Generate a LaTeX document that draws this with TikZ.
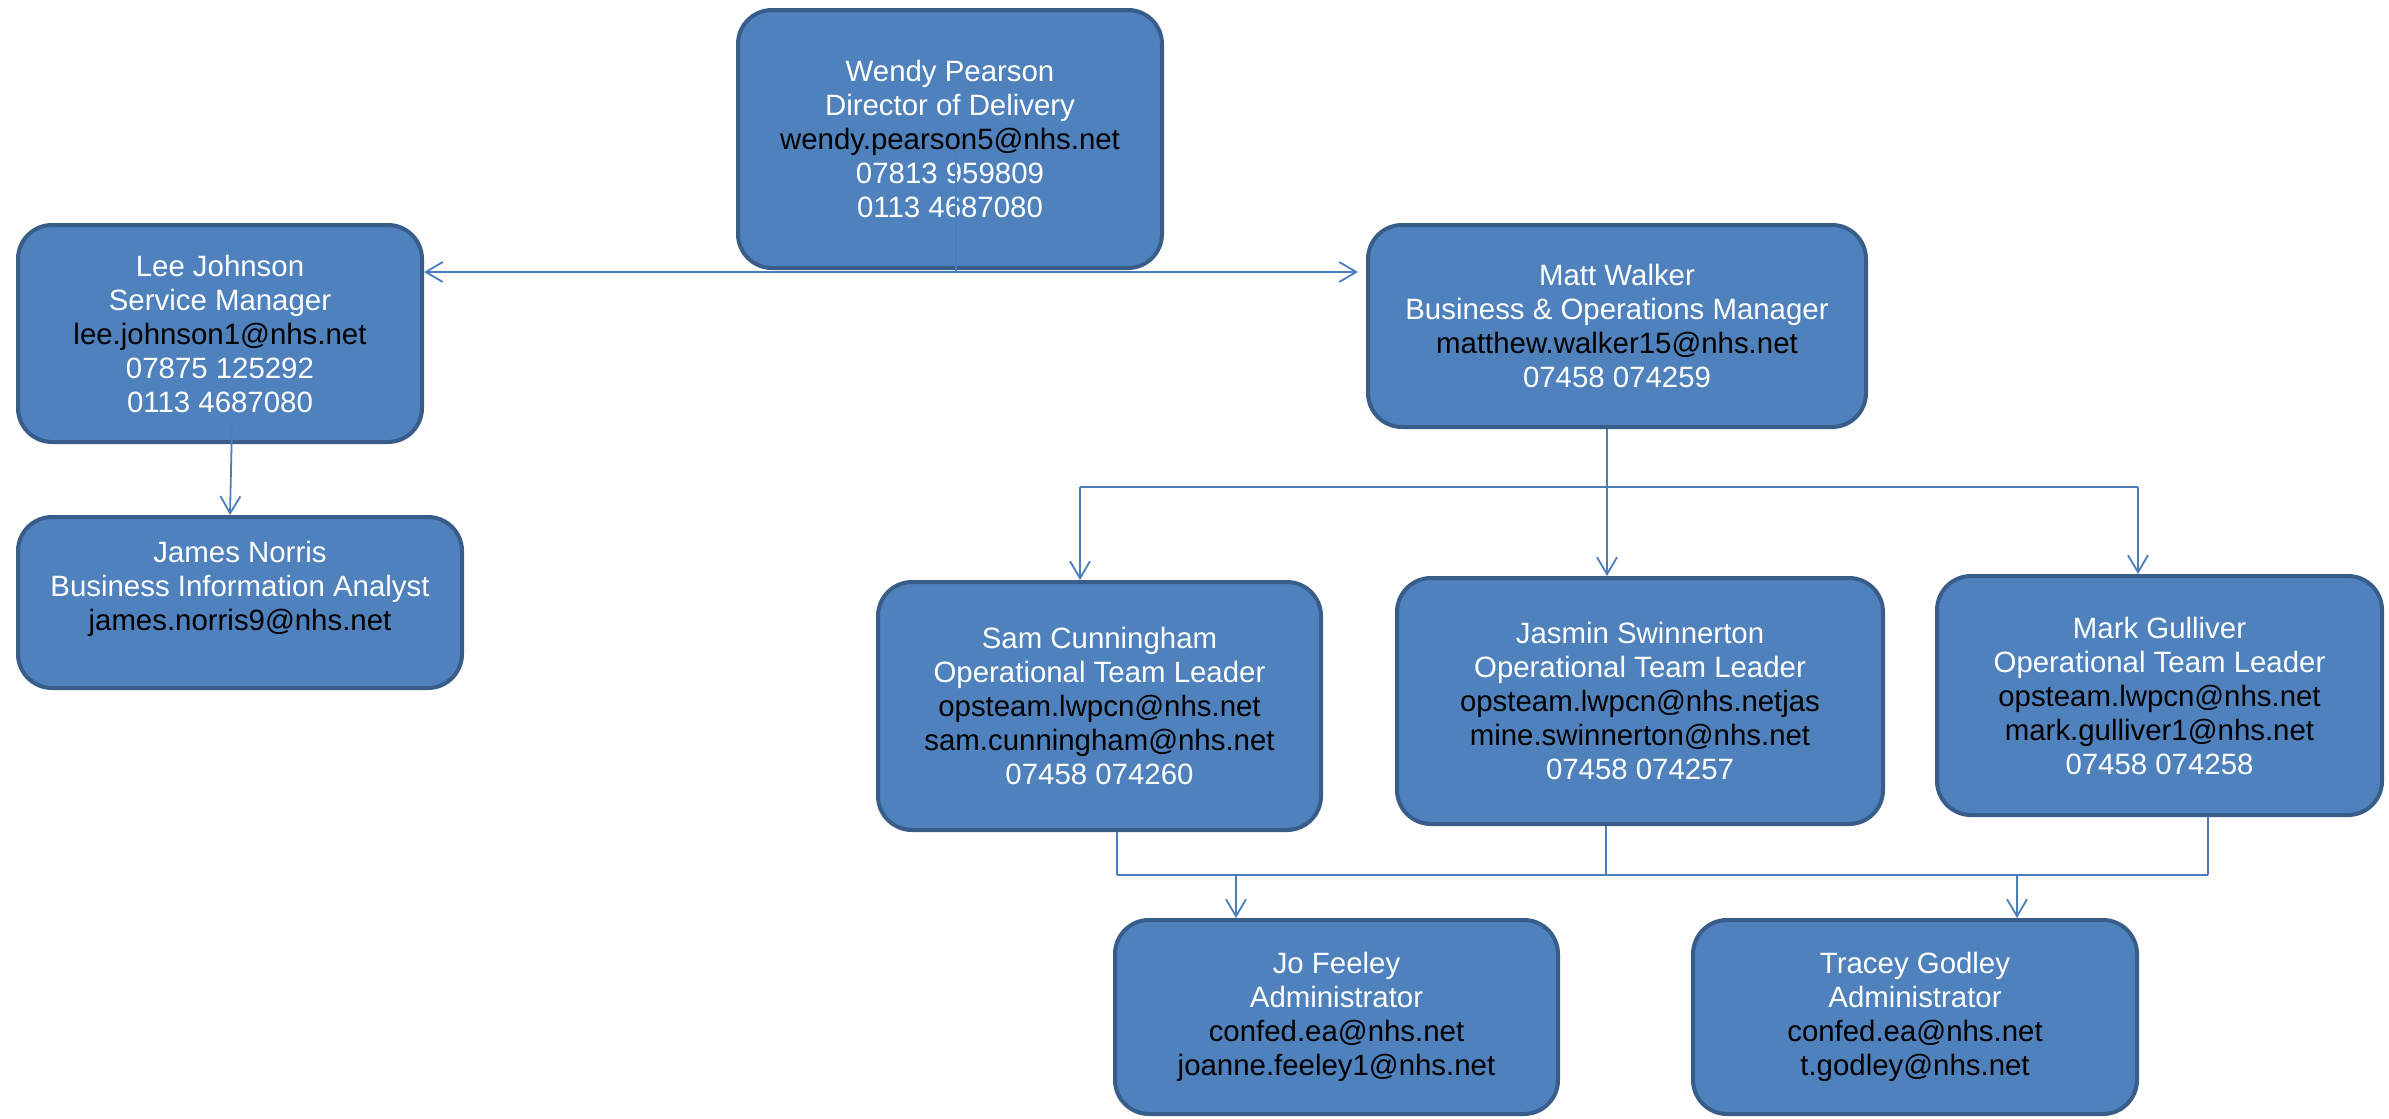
\documentclass[tikz,border=0pt]{standalone}
\usepackage{fontspec}
\setmainfont{Liberation Sans}
\usetikzlibrary{arrows.meta,calc}
\definecolor{boxfill}{HTML}{4F81BD}
\definecolor{boxline}{HTML}{385D8A}
\definecolor{conn}{HTML}{4A7EBB}
\tikzset{
  persontext/.style={align=center, text=white, inner sep=0pt,
    font=\fontsize{14.7pt}{17pt}\selectfont},
  person/.style={persontext, draw=boxline, line width=2pt, fill=boxfill, rounded corners=17pt},
  link/.style={draw=conn, line width=0.9pt},
  arr/.style={link, -{Straight Barb[length=8.5pt,width=10pt,line width=0.9pt]}},
}
\newcommand{\mail}[1]{{\color{black}#1}}
\begin{document}
\begin{tikzpicture}[x=0.5pt,y=-0.5pt]
\useasboundingbox (0,0) rectangle (2389,1119);

\node[person, minimum width=212pt, minimum height=129pt] (wendy) at (950,139)
  {Wendy Pearson\\Director of Delivery\\\mail{wendy.pearson5@nhs.net}\\07813 959809\\0113 4687080};
\node[person, minimum width=202pt, minimum height=108.5pt] (lee) at (220,333.5)
  {Lee Johnson\\Service Manager\\\mail{lee.johnson1@nhs.net}\\07875 125292\\0113 4687080};
\node[person, minimum width=222pt, minimum height=85.5pt] (james) at (240,602.5) {};
\node[persontext] (jamestext) at (240,589)
  {James Norris\\Business Information Analyst\\\mail{james.norris9@nhs.net}};
\node[person, minimum width=249pt, minimum height=101pt] (matt) at (1617,326)
  {Matt Walker\\Business \& Operations Manager\\\mail{matthew.walker15@nhs.net}\\07458 074259};
\node[person, minimum width=221.5pt, minimum height=124pt] (sam) at (1099.5,706)
  {Sam Cunningham\\Operational Team Leader\\\mail{opsteam.lwpcn@nhs.net}\\\mail{sam.cunningham@nhs.net}\\07458 074260};
\node[person, minimum width=243pt, minimum height=123pt] (jasmin) at (1640,701)
  {Jasmin Swinnerton\\Operational Team Leader\\\mail{opsteam.lwpcn@nhs.netjas}\\\mail{mine.swinnerton@nhs.net}\\07458 074257};
\node[person, minimum width=222.5pt, minimum height=119.5pt] (mark) at (2159.5,695.5)
  {Mark Gulliver\\Operational Team Leader\\\mail{opsteam.lwpcn@nhs.net}\\\mail{mark.gulliver1@nhs.net}\\07458 074258};
\node[person, minimum width=221.5pt, minimum height=97pt] (jo) at (1336.5,1017)
  {Jo Feeley\\Administrator\\\mail{confed.ea@nhs.net}\\\mail{joanne.feeley1@nhs.net}};
\node[person, minimum width=222pt, minimum height=97pt] (tracey) at (1915,1017)
  {Tracey Godley\\Administrator\\\mail{confed.ea@nhs.net}\\\mail{t.godley@nhs.net}};

% Wendy -> Lee / Matt
\coordinate (wstart) at (956,155);
\coordinate (wbus) at (956,272);
\draw[link] (wstart) -- (wbus);
\draw[arr] (wbus) -- (lee.east |- wbus);
\draw[arr, shorten >=4pt] (wbus) -- (matt.west |- wbus);

% Lee -> James
\coordinate (lstart) at (232,425);
\coordinate (lend) at (230,515);
\draw[arr] (lstart) -- (lend);

% Matt -> team leaders
\coordinate (mbus) at (1607,487);
\coordinate (mbusL) at (1080,487);
\coordinate (mbusR) at (2138,487);
\draw[link] (matt.south -| mbus) -- (mbus);
\draw[link] (mbusL) -- (mbusR);
\draw[arr] (mbusL) -- (mbusL |- sam.north);
\draw[arr] (mbus) -- (mbus |- jasmin.north);
\draw[arr] (mbusR) -- (mbusR |- mark.north);

% Team leaders -> administrators
\coordinate (bL) at (1117,875);
\coordinate (bM) at (1606,875);
\coordinate (bR) at (2208,875);
\draw[link] (sam.south -| bL) -- (bL);
\draw[link] (jasmin.south -| bM) -- (bM);
\draw[link] (mark.south -| bR) -- (bR);
\draw[link] (bL) -- (bR);
\coordinate (tjo) at (1236,875);
\coordinate (ttr) at (2017,875);
\draw[arr] (tjo) -- (tjo |- jo.north);
\draw[arr] (ttr) -- (ttr |- tracey.north);
\end{tikzpicture}
\end{document}
